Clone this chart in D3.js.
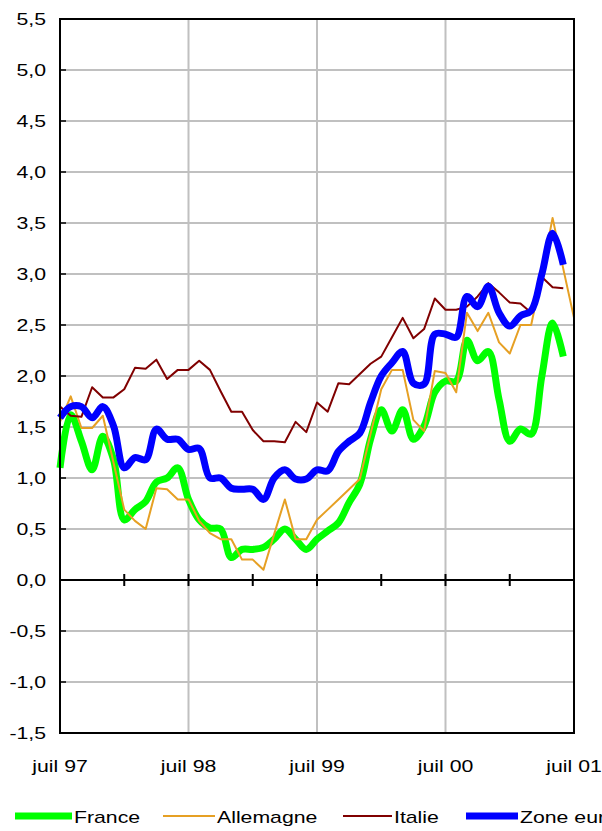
<!DOCTYPE html>
<html>
<head>
<meta charset="utf-8">
<script src="https://cdn.jsdelivr.net/npm/d3@7"></script>
<style>
  html, body { margin: 0; padding: 0; background: #fff; }
  svg { display: block; }
  text { font-family: "Liberation Sans", Arial, sans-serif; fill: #000; }
</style>
</head>
<body>
<svg id="chart" width="602" height="831"></svg>
<script>
// ---- Data (monthly, from juil 97 to juil 01) ----
const seriesNames = ["France", "Allemagne", "Italie", "Zone euro"];
const france = [1.10,1.62,1.36,1.08,1.41,1.18,0.59,0.69,0.77,0.96,1.00,1.10,0.79,0.59,0.51,0.50,0.22,0.30,0.30,0.32,0.40,0.50,0.40,0.30,0.40,0.48,0.56,0.76,0.94,1.38,1.67,1.46,1.67,1.38,1.51,1.84,1.95,1.95,2.35,2.15,2.24,1.77,1.36,1.48,1.43,2.00,2.52,2.19];
const allemagne = [1.55,1.80,1.49,1.49,1.61,1.15,0.69,0.58,0.50,0.90,0.89,0.79,0.79,0.58,0.46,0.40,0.40,0.20,0.20,0.10,0.45,0.79,0.40,0.40,0.59,0.69,0.79,0.89,0.99,1.43,1.87,2.06,2.06,1.57,1.46,2.05,2.03,1.84,2.62,2.44,2.62,2.33,2.22,2.50,2.50,3.00,3.55,3.05,2.57];
const italie = [1.70,1.61,1.60,1.89,1.79,1.79,1.87,2.08,2.07,2.16,1.97,2.06,2.06,2.15,2.06,1.85,1.65,1.65,1.47,1.36,1.36,1.35,1.55,1.45,1.74,1.65,1.93,1.92,2.02,2.12,2.19,2.38,2.57,2.37,2.46,2.76,2.65,2.65,2.68,2.78,2.91,2.82,2.72,2.71,2.62,2.97,2.87,2.86];
const zoneEuro = [1.59,1.70,1.70,1.59,1.70,1.51,1.10,1.20,1.18,1.48,1.38,1.38,1.28,1.29,1.00,1.00,0.90,0.89,0.89,0.79,1.00,1.08,0.99,0.99,1.08,1.07,1.26,1.36,1.44,1.74,2.00,2.13,2.24,1.93,1.92,2.41,2.41,2.38,2.78,2.68,2.88,2.62,2.49,2.59,2.64,3.00,3.40,3.09];
const monthNames = ["juil","août","sept","oct","nov","déc","janv","févr","mars","avr","mai","juin"];
const yearSuffix = ["97","98","99","00","01"];
const nMonths = 49; // juil 97 .. juil 01
const xTickLabels = ["juil 97", "juil 98", "juil 99", "juil 00", "juil 01"];
const yTickValues = [-1.5,-1.0,-0.5,0.0,0.5,1.0,1.5,2.0,2.5,3.0,3.5,4.0,4.5,5.0,5.5];

const series = [
  { name: seriesNames[0], values: france,    color: "#00FF00", width: 7, smooth: true },
  { name: seriesNames[1], values: allemagne, color: "#E6A024", width: 2, smooth: false },
  { name: seriesNames[2], values: italie,    color: "#800000", width: 2, smooth: false },
  { name: seriesNames[3], values: zoneEuro,  color: "#0000FF", width: 7, smooth: true }
];

// ---- Layout ----
const plot = { left: 60, right: 574, top: 19, bottom: 733 };
const sx = 1.25; // horizontal stretch of text
const fontSize = 17;

const svg = d3.select("#chart");
const x = d3.scaleLinear().domain([0, nMonths - 1]).range([plot.left, plot.right]);
const y = d3.scaleLinear().domain([-1.5, 5.5]).range([plot.bottom, plot.top]);

const fmt = v => d3.format(".1f")(v).replace(".", ",").replace("−", "-");

const yearIdx = d3.range(0, nMonths, 12);      // juil of each year
const halfYearIdx = d3.range(0, nMonths, 6);   // every 6 months

// horizontal grid
svg.append("g").selectAll("line").data(yTickValues.filter(v => v !== 0))
  .join("line")
  .attr("x1", plot.left).attr("x2", plot.right)
  .attr("y1", d => y(d)).attr("y2", d => y(d))
  .attr("stroke", "#C0C0C0").attr("stroke-width", 2);

// vertical grid (yearly)
svg.append("g").selectAll("line").data(yearIdx.slice(1, -1))
  .join("line")
  .attr("x1", d => x(d)).attr("x2", d => x(d))
  .attr("y1", plot.top).attr("y2", plot.bottom)
  .attr("stroke", "#C0C0C0").attr("stroke-width", 2);

// y-axis inward ticks
svg.append("g").selectAll("line").data(yTickValues)
  .join("line")
  .attr("x1", plot.left).attr("x2", plot.left + 6)
  .attr("y1", d => y(d)).attr("y2", d => y(d))
  .attr("stroke", "#000").attr("stroke-width", 1.5);

// zero axis with 6-month ticks
svg.append("line")
  .attr("x1", plot.left).attr("x2", plot.right)
  .attr("y1", y(0)).attr("y2", y(0))
  .attr("stroke", "#000").attr("stroke-width", 2);
svg.append("g").selectAll("line").data(halfYearIdx.slice(1, -1))
  .join("line")
  .attr("x1", d => x(d)).attr("x2", d => x(d))
  .attr("y1", y(0) - 6).attr("y2", y(0) + 6)
  .attr("stroke", "#000").attr("stroke-width", 2);

// series lines
series.forEach(s => {
  const line = d3.line()
    .x((d, i) => x(i))
    .y(d => y(d))
    .curve(s.smooth ? d3.curveCatmullRom.alpha(0.5) : d3.curveLinear);
  svg.append("path")
    .datum(s.values)
    .attr("d", line)
    .attr("fill", "none")
    .attr("stroke", s.color)
    .attr("stroke-width", s.width)
    .attr("stroke-linejoin", "round")
    .attr("stroke-linecap", "butt");
});

// plot border
svg.append("rect")
  .attr("x", plot.left).attr("y", plot.top)
  .attr("width", plot.right - plot.left).attr("height", plot.bottom - plot.top)
  .attr("fill", "none").attr("stroke", "#000").attr("stroke-width", 2);

// y labels
svg.append("g").selectAll("text").data(yTickValues)
  .join("text")
  .attr("transform", d => `translate(46,${y(d) + 6}) scale(${sx},1)`)
  .attr("text-anchor", "end")
  .style("font-size", fontSize + "px")
  .text(d => fmt(d));

// x labels
svg.append("g").selectAll("text").data(yearIdx)
  .join("text")
  .attr("transform", d => `translate(${x(d)},772) scale(${sx},1)`)
  .attr("text-anchor", "middle")
  .style("font-size", fontSize + "px")
  .text((d, i) => xTickLabels[i]);

// legend
const legendX = [15, 163, 343, 466];
const legendW = [57, 52, 49, 52];
const lg = svg.append("g");
series.forEach((s, i) => {
  lg.append("line")
    .attr("x1", legendX[i]).attr("x2", legendX[i] + legendW[i])
    .attr("y1", 816).attr("y2", 816)
    .attr("stroke", s.color).attr("stroke-width", s.width);
  lg.append("text")
    .attr("transform", `translate(${legendX[i] + legendW[i] + 2},823) scale(${sx},1)`)
    .style("font-size", fontSize + "px")
    .text(s.name);
});
</script>
</body>
</html>
